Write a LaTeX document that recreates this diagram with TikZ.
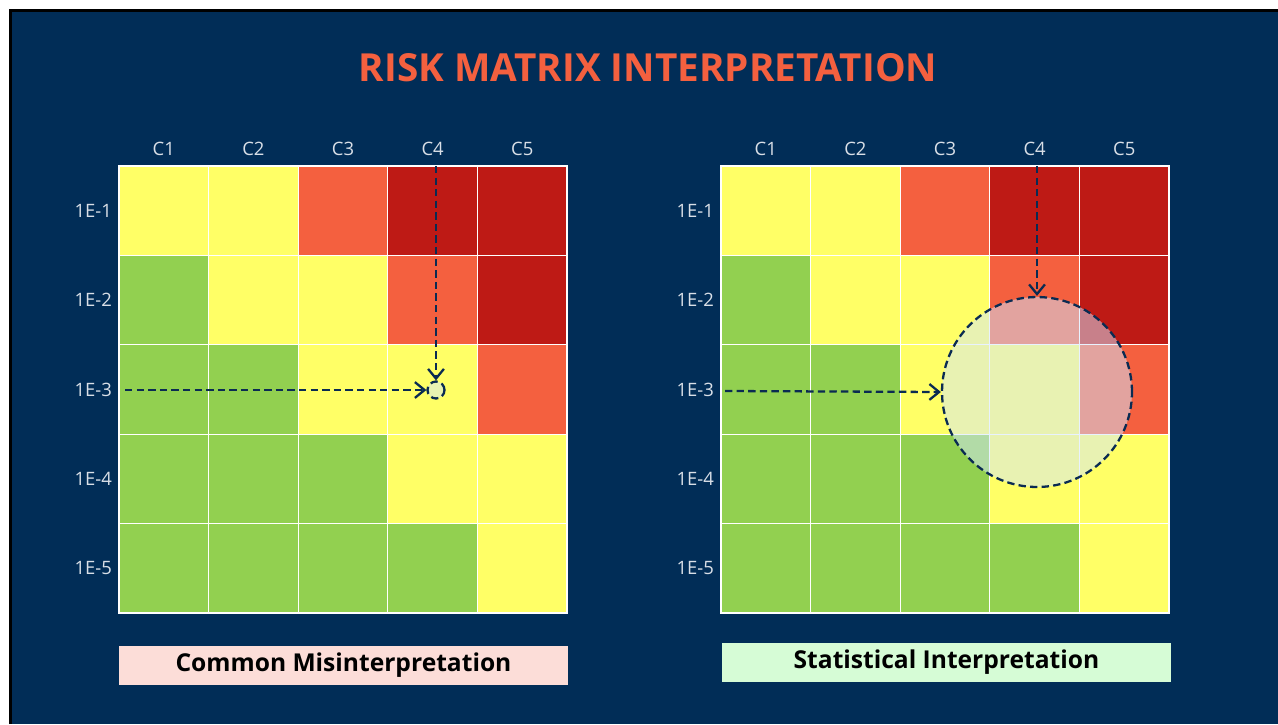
\documentclass[tikz,border=0pt]{standalone}
\usepackage{fontspec}
\setmainfont{Open Sans}
\usepackage{tikz}
\usetikzlibrary{arrows.meta}

\definecolor{slide}{HTML}{012D57}
\definecolor{cellY}{HTML}{FFFF66}
\definecolor{cellG}{HTML}{92D050}
\definecolor{cellO}{HTML}{F4603F}
\definecolor{cellR}{HTML}{BE1A15}
\definecolor{axisgrey}{HTML}{D9DFE7}
\definecolor{dashnavy}{HTML}{0A2B52}
\definecolor{haze}{HTML}{D2E6FF}
\definecolor{pinkbox}{HTML}{FCDDD8}
\definecolor{mintbox}{HTML}{D6FCD6}

\tikzset{
  cell/.style={draw=white, line width=0.7pt, minimum size=1.792cm, inner sep=0pt, outer sep=0pt},
  axis/.style={text=axisgrey, font=\fontsize{10.5}{13}\selectfont},
  guide/.style={draw=dashnavy, line width=1.3pt, dash pattern=on 4.2pt off 2.4pt},
  spread/.style={guide, circle, fill=haze, fill opacity=0.5, inner sep=0pt},
  caption/.style={font=\bfseries\fontsize{14}{17}\selectfont, text=black, minimum width=8.98cm, minimum height=0.78cm}
}

\begin{document}
\begin{tikzpicture}[x=0.02cm, y=-0.02cm, >={Straight Barb[length=5.5pt,width=9pt]}]
  \useasboundingbox (0,0) rectangle (1278,724);
  \fill[white] (0,0) rectangle (1278,724);
  \fill[slide] (10,10) rectangle (1278,724);
  \draw[black, line width=1.5pt] (10.5,724) -- (10.5,10.5) -- (1278,10.5);

  \node[text=cellO, font=\bfseries\fontsize{22}{26}\selectfont] (title) at (648,68) {RISK MATRIX INTERPRETATION};

  % the two 5x5 matrices
  \foreach \ox/\m in {119/L, 721/R} {
    \foreach \row [count=\r] in {{Y,Y,O,R,R},{G,Y,Y,O,R},{G,G,Y,Y,O},{G,G,G,Y,Y},{G,G,G,G,Y}} {
      \foreach \c [count=\k] in \row
        \node[cell, fill=cell\c] (\m\r\k) at ({\ox+(\k-0.5)*89.6}, {166+(\r-0.5)*89.4}) {};
      \node[axis, anchor=east] (\m row\r) at (\ox-1, {166+(\r-0.5)*89.4}) {1E-\r};
    }
    \foreach \k in {1,...,5}
      \node[axis] (\m col\k) at ({\ox+(\k-0.5)*89.6}, 149) {C\k};
  }

  % point reading
  \node[spread, minimum size=0.34cm] (Lpt) at (436,390) {};
  \coordinate (Lstart) at (125,390);
  \draw[guide, ->] (Lstart) -- (Lpt.west);
  \draw[guide, ->] (Lpt |- L14.north) -- (Lpt.north);

  % reading with its spread
  \node[spread, minimum size=3.8cm] (Rpt) at (1037,392) {};
  \coordinate (Rstart) at (725,391);
  \draw[guide, ->] (Rstart) -- (Rpt.west);
  \draw[guide, ->] (Rpt |- R14.north) -- (Rpt.north);

  \node[caption, fill=pinkbox] (mis) at (343.5,665.5) {Common Misinterpretation};
  \node[caption, fill=mintbox] (stat) at (946.5,662.5) {Statistical Interpretation};
\end{tikzpicture}
\end{document}
